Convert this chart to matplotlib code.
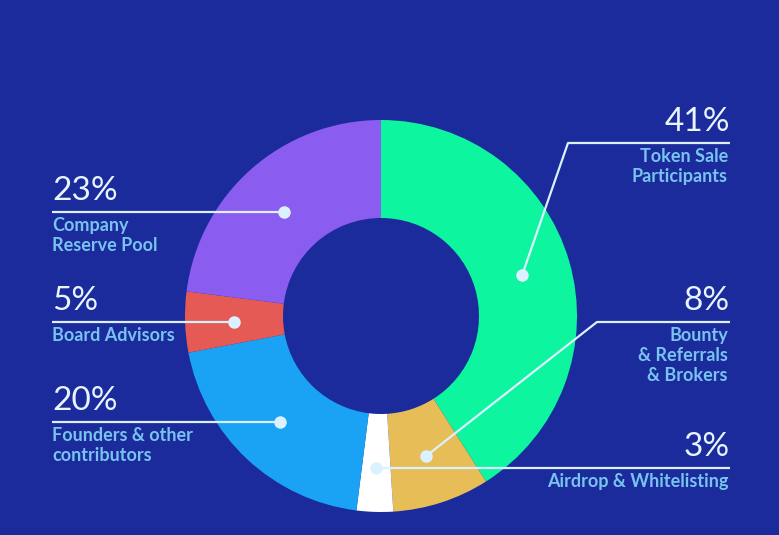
import numpy as np
import matplotlib
matplotlib.use("Agg")
import matplotlib.pyplot as plt

# data
labels = ["Token Sale\nParticipants", "Bounty\n& Referrals\n& Brokers", "Airdrop & Whitelisting",
          "Founders & other\ncontributors", "Board Advisors", "Company\nReserve Pool"]
shares = [41, 8, 3, 20, 5, 23]
colors = ["#0ef5a0", "#e6bd56", "#ffffff", "#1aa2f4", "#e55a55", "#8b5cf0"]

bg = "#1b2b9c"
line_col = "#dcf1ff"
pct_col = "#e8f5ff"
txt_col = "#79c3ef"

W, H = 779, 535
fig = plt.figure(figsize=(W / 100, H / 100), dpi=100, facecolor=bg)
ax = fig.add_axes([0, 0, 1, 1])
ax.set_facecolor(bg)

cx, cy = 381, H - 316
R = 196
ring = 98

wedges, _ = ax.pie(shares, colors=colors, startangle=90, counterclock=False,
                   center=(cx, cy), radius=R, frame=True,
                   wedgeprops=dict(width=ring, linewidth=0))
ax.set_xlim(0, W)
ax.set_ylim(0, H)
ax.set_aspect("equal")
ax.axis("off")

# label layout: (side, text x, line y (image px), elbow x)
layout = [
    ("right", 730, 143, 568),
    ("right", 730, 322, 597),
    ("right", 730, 468, None),
    ("left", 52, 422, None),
    ("left", 52, 322, None),
    ("left", 52, 212, None),
]

r_dot = R - ring / 2
for w, share, lab, (side, tx, ly, ex) in zip(wedges, shares, labels, layout):
    mid = np.deg2rad((w.theta1 + w.theta2) / 2)
    dx, dy = cx + r_dot * np.cos(mid), cy + r_dot * np.sin(mid)
    y = H - ly
    if side == "right" and ex is not None:
        xs, ys = [dx, ex, tx], [dy, y, y]
        dot_y = dy
    else:
        xs, ys = [tx, dx], [y, y]
        dot_y = y
    ha = "right" if side == "right" else "left"
    ax.plot(xs, ys, color=line_col, lw=1.6, solid_capstyle="butt", zorder=3)
    ax.plot([dx], [dot_y], "o", color=line_col, ms=9, mec="none", zorder=4)
    ax.text(tx, y + 6, f"{share}%", ha=ha, va="bottom", color=pct_col,
            fontsize=24, family="Lato", zorder=5)
    ax.text(tx - (2 if side == "right" else 0), y - 5, lab, ha=ha, va="top",
            color=txt_col, fontsize=13, family="Lato", fontweight="bold",
            linespacing=1.2, multialignment=ha, zorder=5)

fig.savefig("out.png", dpi=100, facecolor=bg)
